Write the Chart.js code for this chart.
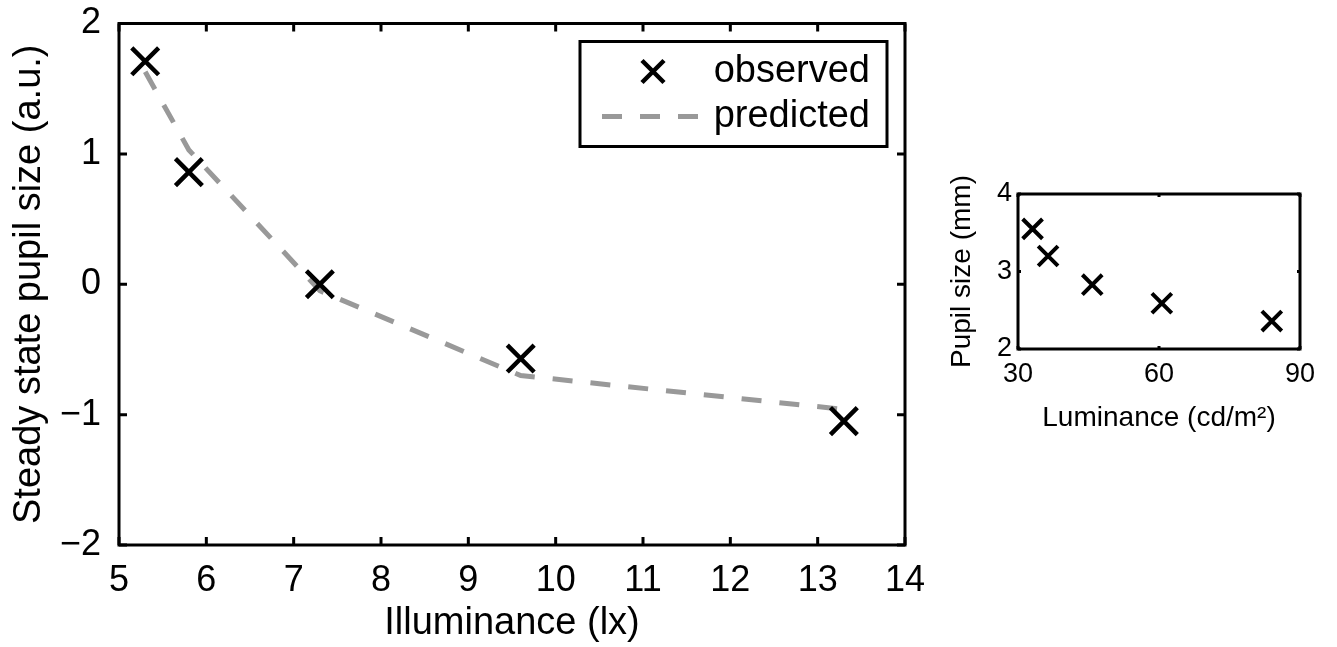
<!DOCTYPE html>
<html>
<head>
<meta charset="utf-8">
<script src="https://cdn.jsdelivr.net/npm/chart.js@4.4.1/dist/chart.umd.min.js"></script>
<style>
  body { margin: 0; background: #fff; width: 1337px; height: 647px; overflow: hidden; position: relative; }
  #mainBox { position: absolute; left: 0; top: 0; width: 930px; height: 647px; }
  #insetBox { position: absolute; left: 940px; top: 170px; width: 397px; height: 270px; }
</style>
</head>
<body>
<div id="mainBox"><canvas id="mainChart"></canvas></div>
<div id="insetBox"><canvas id="insetChart"></canvas></div>
<script>
'use strict';

// main panel: illuminance vs steady state pupil size
const illuminance   = [5.3, 5.8, 7.3, 9.6, 13.3];
const observedSize  = [1.71, 0.86, 0.0, -0.57, -1.05];
const predictedSize = [1.63, 1.03, -0.05, -0.70, -0.96];
const xTicks = [5, 6, 7, 8, 9, 10, 11, 12, 13, 14];
const yTicks = [-2, -1, 0, 1, 2];

// inset: luminance vs pupil size in mm
const luminance  = [33.1, 36.4, 45.8, 60.6, 84.0];
const pupilMm    = [3.55, 3.20, 2.83, 2.59, 2.36];
const insetXTicks = [30, 60, 90];
const insetYTicks = [2, 3, 4];

const FONT = "'Liberation Sans', Arial, Helvetica, sans-serif";
const minus = v => String(v).replace('-', '\u2212');

// box around the plot area with inward ticks on all four sides
const boxPlugin = {
	id: 'boxTicks',
	afterDatasetsDraw(chart, args, opts) {
		const ctx = chart.ctx;
		const a = chart.chartArea;
		const xs = chart.scales.x, ys = chart.scales.y;
		const len = opts.len || 8;
		ctx.save();
		ctx.strokeStyle = '#000';
		ctx.lineWidth = opts.width || 3;
		ctx.beginPath();
		xs.ticks.forEach(t => {
			const px = xs.getPixelForValue(t.value);
			ctx.moveTo(px, a.bottom); ctx.lineTo(px, a.bottom - len);
			ctx.moveTo(px, a.top);    ctx.lineTo(px, a.top + len);
		});
		ys.ticks.forEach(t => {
			const py = ys.getPixelForValue(t.value);
			ctx.moveTo(a.left, py);  ctx.lineTo(a.left + len, py);
			ctx.moveTo(a.right, py); ctx.lineTo(a.right - len, py);
		});
		ctx.stroke();
		ctx.strokeRect(a.left, a.top, a.right - a.left, a.bottom - a.top);
		ctx.restore();
	}
};

// MATLAB-like legend inside the top right corner
const legendPlugin = {
	id: 'cornerLegend',
	afterDraw(chart, args, opts) {
		if (!opts.show) return;
		const ctx = chart.ctx;
		const a = chart.chartArea;
		const obs = chart.data.datasets[0], pred = chart.data.datasets[1];
		const w = 307, h = 105;
		const x0 = a.right - 18 - w, y0 = a.top + 18;
		ctx.save();
		ctx.fillStyle = '#fff';
		ctx.fillRect(x0, y0, w, h);
		ctx.strokeStyle = '#000';
		ctx.lineWidth = 3;
		ctx.strokeRect(x0, y0, w, h);

		// X marker
		const mx = x0 + 73, my = y0 + 30, r = 11;
		ctx.lineWidth = obs.pointBorderWidth;
		ctx.strokeStyle = obs.pointBorderColor;
		ctx.beginPath();
		ctx.moveTo(mx - r, my - r); ctx.lineTo(mx + r, my + r);
		ctx.moveTo(mx - r, my + r); ctx.lineTo(mx + r, my - r);
		ctx.stroke();

		// dashed line sample
		const ly = y0 + 75;
		ctx.strokeStyle = pred.borderColor;
		ctx.lineWidth = pred.borderWidth;
		ctx.setLineDash(pred.borderDash);
		ctx.beginPath();
		ctx.moveTo(x0 + 22, ly); ctx.lineTo(x0 + 125, ly);
		ctx.stroke();
		ctx.setLineDash([]);

		ctx.fillStyle = '#000';
		ctx.font = '38px ' + FONT;
		ctx.textAlign = 'right';
		ctx.textBaseline = 'middle';
		ctx.fillText(obs.label, x0 + w - 17, my);
		ctx.fillText(pred.label, x0 + w - 17, ly);
		ctx.restore();
	}
};

function toPoints(xv, yv) {
	return xv.map((x, i) => ({ x: x, y: yv[i] }));
}

function fixedTicks(list) {
	return function (scale) {
		scale.ticks = list.map(v => ({ value: v }));
	};
}

// fix the axis box size and drop the label overhang padding
function fitX(h) {
	return function (s) { s.height = h; s.paddingLeft = 0; s.paddingRight = 0; };
}
function fitY(w) {
	return function (s) { s.width = w; s.paddingTop = 0; s.paddingBottom = 0; };
}

let mainCtx = document.getElementById('mainChart').getContext('2d');
let mainChart = new Chart(mainCtx, {
	type: 'scatter',
	data: {
		datasets: [
			{
				label           : 'observed',
				data            : toPoints(illuminance, observedSize),
				showLine        : false,
				pointStyle      : 'crossRot',
				pointRadius     : 19,
				pointBorderWidth: 4.5,
				pointBorderColor: '#000',
				pointBackgroundColor: '#000',
				order           : 0
			},
			{
				label      : 'predicted',
				data       : toPoints(illuminance, predictedSize),
				showLine   : true,
				pointRadius: 0,
				borderColor: '#999999',
				borderWidth: 5,
				borderDash : [20, 18],
				order      : 1
			}
		]
	},
	plugins: [boxPlugin, legendPlugin],
	options: {
		responsive: true,
		maintainAspectRatio: false,
		animation: false,
		layout: { padding: { top: 17, right: 25, left: 0, bottom: 0 } },
		plugins: {
			legend: { display: false },
			tooltip: { enabled: false },
			boxTicks: { len: 8, width: 3 },
			cornerLegend: { show: true }
		},
		scales: {
			x: {
				type: 'linear',
				min: 5, max: 14,
				afterBuildTicks: fixedTicks(xTicks),
				afterFit: fitX(102),
				grid: { display: false, drawTicks: false },
				border: { display: false },
				ticks: { color: '#000', padding: 14, font: { family: FONT, size: 36 }, callback: v => minus(v) },
				title: { display: true, text: 'Illuminance (lx)', color: '#000', font: { family: FONT, size: 38 }, padding: { top: 0, bottom: 1 } }
			},
			y: {
				type: 'linear',
				min: -2, max: 2,
				afterBuildTicks: fixedTicks(yTicks),
				afterFit: fitY(119),
				grid: { display: false, drawTicks: false },
				border: { display: false },
				ticks: { color: '#000', padding: 18, font: { family: FONT, size: 36 }, callback: v => minus(v) },
				title: { display: true, text: 'Steady state pupil size (a.u.)', color: '#000', font: { family: FONT, size: 38 }, padding: { top: 7, bottom: 0 } }
			}
		}
	}
});

let insetCtx = document.getElementById('insetChart').getContext('2d');
let insetChart = new Chart(insetCtx, {
	type: 'scatter',
	data: {
		datasets: [
			{
				label           : 'pupil',
				data            : toPoints(luminance, pupilMm),
				showLine        : false,
				pointStyle      : 'crossRot',
				pointRadius     : 14,
				pointBorderWidth: 4,
				pointBorderColor: '#000'
			}
		]
	},
	plugins: [boxPlugin],
	options: {
		responsive: true,
		maintainAspectRatio: false,
		animation: false,
		layout: { padding: { top: 24, right: 37, left: 0, bottom: 0 } },
		plugins: {
			legend: { display: false },
			tooltip: { enabled: false },
			boxTicks: { len: 3, width: 3 }
		},
		scales: {
			x: {
				type: 'linear',
				min: 30, max: 90,
				afterBuildTicks: fixedTicks(insetXTicks),
				afterFit: fitX(91),
				grid: { display: false, drawTicks: false },
				border: { display: false },
				ticks: { color: '#000', padding: 9, font: { family: FONT, size: 27 } },
				title: { display: true, text: 'Luminance (cd/m\u00B2)', color: '#000', font: { family: FONT, size: 28 }, padding: { top: 0, bottom: 5 } }
			},
			y: {
				type: 'linear',
				min: 2, max: 4,
				afterBuildTicks: fixedTicks(insetYTicks),
				afterFit: fitY(78),
				grid: { display: false, drawTicks: false },
				border: { display: false },
				ticks: { color: '#000', padding: 6, font: { family: FONT, size: 27 } },
				title: { display: true, text: 'Pupil size (mm)', color: '#000', font: { family: FONT, size: 28 }, padding: { top: 5, bottom: 0 } }
			}
		}
	}
});
</script>
</body>
</html>
